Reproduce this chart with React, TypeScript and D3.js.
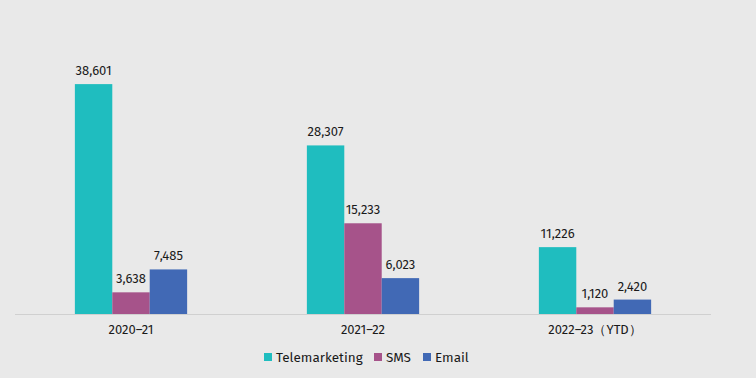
import React from "react";
import * as d3 from "d3";

const categories = ["2020–21", "2021–22", "2022–23（YTD）"];
const seriesNames = ["Telemarketing", "SMS", "Email"];
const telemarketing = [38601, 28307, 11226];
const sms = [3638, 15233, 1120];
const email = [7485, 6023, 2420];
const colors = ["#1fbdbf", "#a6538a", "#4169b5"];

const W = 756;
const H = 378;
const FONT = "'Fira Sans', 'Open Sans', 'Noto Sans', sans-serif";

export default function App() {
  const values = [telemarketing, sms, email];
  const x0 = d3.scaleBand().domain(categories).range([15, 711]).paddingInner(0).paddingOuter(0);
  const x1 = d3
    .scaleBand()
    .domain(seriesNames)
    .range([0, x0.bandwidth()])
    .paddingOuter(1.6)
    .paddingInner(0);
  const y = d3.scaleLinear().domain([0, 45000]).range([314, 46]);
  const fmt = d3.format(",");

  const legendX = [264, 374, 423];

  return (
    <svg
      width={W}
      height={H}
      style={{ position: "absolute", left: 0, top: 0, display: "block", background: "#e9e9e9" }}
    >
      <rect x={0} y={0} width={W} height={H} fill="#e9e9e9" />
      {categories.map((c, ci) => (
        <g key={c} transform={`translate(${x0(c)},0)`}>
          {seriesNames.map((s, si) => {
            const v = values[si][ci];
            const bx = x1(s)!;
            const bw = x1.bandwidth();
            return (
              <g key={s}>
                <rect x={bx} y={y(v)} width={bw} height={y(0) - y(v)} fill={colors[si]} />
                <text
                  x={bx + bw / 2}
                  y={y(v) - 9}
                  textAnchor="middle"
                  fontFamily={FONT}
                  fontSize={13}
                  fill="#1a1a1a"
                >
                  {fmt(v)}
                </text>
              </g>
            );
          })}
          <text
            x={x0.bandwidth() / 2}
            y={334}
            textAnchor="middle"
            fontFamily={FONT}
            fontSize={13}
            fill="#1a1a1a"
          >
            {c}
          </text>
        </g>
      ))}
      <line x1={15} x2={711} y1={314.5} y2={314.5} stroke="#d0d0d0" strokeWidth={1} />
      {seriesNames.map((s, si) => (
        <g key={s} transform={`translate(${legendX[si]},0)`}>
          <rect x={0} y={353} width={8} height={8} fill={colors[si]} />
          <text x={12} y={361.5} fontFamily={FONT} fontSize={13.5} fill="#1a1a1a">
            {s}
          </text>
        </g>
      ))}
    </svg>
  );
}
